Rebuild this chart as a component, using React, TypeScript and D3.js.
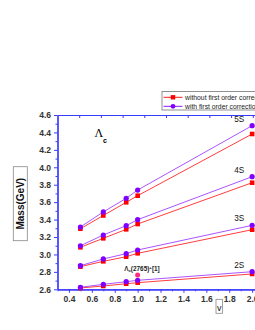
import * as React from "react";
import * as d3 from "d3";
import { select, axisBottom, axisLeft, axisTop } from "d3";

// velocity parameter v used in the calculation
const vValues = [0.5, 0.7, 0.9, 1.0, 2.0];
const stateNames = ["2S", "3S", "4S", "5S"];

// masses (GeV) without first order corrections
const without2S = [2.615, 2.638, 2.664, 2.676, 2.776];
const without3S = [2.86, 2.921, 2.974, 3.013, 3.284];
const without4S = [3.082, 3.185, 3.288, 3.349, 3.823];
const without5S = [3.295, 3.447, 3.598, 3.674, 4.382];

// masses (GeV) with first order corrections
const with2S = [2.623, 2.657, 2.687, 2.703, 2.802];
const with3S = [2.871, 2.948, 3.009, 3.051, 3.334];
const with4S = [3.1, 3.223, 3.33, 3.399, 3.892];
const with5S = [3.315, 3.488, 3.644, 3.739, 4.478];

// experimental Lambda_c(2765)+ point
const expV = [1.0];
const expMass = [2.764];

const xMajorTicks = [0.4, 0.6, 0.8, 1.0, 1.2, 1.4, 1.6, 1.8, 2.0];
const xMinorTicks = [0.3, 0.5, 0.7, 0.9, 1.1, 1.3, 1.5, 1.7, 1.9, 2.1];
const yMajorTicks = [2.6, 2.8, 3.0, 3.2, 3.4, 3.6, 3.8, 4.0, 4.2, 4.4, 4.6];
const yMinorTicks = [2.7, 2.9, 3.1, 3.3, 3.5, 3.7, 3.9, 4.1, 4.3, 4.5];
const topTicks = [1, 2, 3, 4, 5, 6, 7, 8, 9];

const legendLabels = ["without first order corrections", "with first order corrections"];

const RED = "#ff0000";
const PURPLE = "#8000ff";
const AXIS = "#3a3aff";
const FONT = "'Liberation Sans', Arial, sans-serif";

export default function App() {
  const width = 255;
  const height = 330;

  const x = d3.scaleLinear().domain([0.3, 2.1]).range([57.5, 263.6]);
  const y = d3.scaleLinear().domain([2.6, 4.6]).range([289.3, 115]);
  const xTop = d3.scaleLinear().domain([0, 9.6]).range([57.5, 265.8]);

  const withoutSeries = [without2S, without3S, without4S, without5S];
  const withSeries = [with2S, with3S, with4S, with5S];

  const line = d3
    .line<number>()
    .x((_d, i) => x(vValues[i]))
    .y(d => y(d));

  const styleAxis = (g: any, showText: boolean) => {
    g.select(".domain").attr("stroke", AXIS).attr("stroke-width", 1.2);
    g.selectAll(".tick line").attr("stroke", AXIS).attr("stroke-width", 1);
    g.selectAll(".tick text")
      .attr("fill", "#333")
      .attr("font-weight", "bold")
      .attr("font-size", 8.5)
      .attr("font-family", FONT)
      .style("display", showText ? null : "none");
  };

  return (
    <svg
      width={width}
      height={height}
      style={{ position: "absolute", left: 0, top: 0, background: "#fff" }}
    >
      {/* minor ticks first */}
      <g
        transform={`translate(0,${y(2.6)})`}
        ref={node => {
          if (!node) return;
          const g = select(node);
          g.call(axisBottom(x).tickValues(xMinorTicks).tickSize(2).tickSizeOuter(0).tickFormat(() => ""));
          styleAxis(g, false);
        }}
      />
      <g
        transform={`translate(${x(0.3)},0)`}
        ref={node => {
          if (!node) return;
          const g = select(node);
          g.call(axisLeft(y).tickValues(yMinorTicks).tickSize(2).tickSizeOuter(0).tickFormat(() => ""));
          styleAxis(g, false);
        }}
      />
      <g
        className="axis axis--x"
        transform={`translate(0,${y(2.6)})`}
        ref={node => {
          if (!node) return;
          const g = select(node);
          g.call(
            axisBottom(x)
              .tickValues(xMajorTicks)
              .tickSize(3.5)
              .tickSizeOuter(0)
              .tickPadding(3)
              .tickFormat(d3.format(".1f"))
          );
          styleAxis(g, true);
        }}
      />
      <g
        className="axis axis--y"
        transform={`translate(${x(0.3)},0)`}
        ref={node => {
          if (!node) return;
          const g = select(node);
          g.call(
            axisLeft(y)
              .tickValues(yMajorTicks)
              .tickSize(3.5)
              .tickSizeOuter(0)
              .tickPadding(3)
              .tickFormat(d3.format(".1f"))
          );
          styleAxis(g, true);
        }}
      />
      <g
        className="axis axis--top"
        transform={`translate(0,${y(4.6)})`}
        ref={node => {
          if (!node) return;
          const g = select(node);
          g.call(axisTop(xTop).tickValues(topTicks).tickSize(-3).tickSizeOuter(0).tickFormat(() => ""));
          styleAxis(g, false);
        }}
      />

      {/* series lines */}
      {withoutSeries.map((s, i) => (
        <path key={"lr" + i} d={line(s) as string} fill="none" stroke={RED} strokeWidth={0.9} strokeOpacity={0.85} />
      ))}
      {withSeries.map((s, i) => (
        <path key={"lp" + i} d={line(s) as string} fill="none" stroke={PURPLE} strokeWidth={0.9} strokeOpacity={0.75} />
      ))}

      {/* markers */}
      {withoutSeries.map((s, i) =>
        s.map((m, j) => (
          <rect key={`r${i}-${j}`} x={x(vValues[j]) - 2.3} y={y(m) - 2.3} width={4.6} height={4.6} fill={RED} />
        ))
      )}
      {withSeries.map((s, i) =>
        s.map((m, j) => <circle key={`c${i}-${j}`} cx={x(vValues[j])} cy={y(m)} r={2.6} fill={PURPLE} />)
      )}

      {/* experimental point */}
      {expV.map((v, i) => (
        <g key={"e" + i}>
          <circle cx={x(v)} cy={y(expMass[i])} r={2.5} fill="#ff2a7f" />
          <text x={x(v) - 13.5} y={y(expMass[i]) - 4.3} fontSize={6.4} fontFamily={FONT} fontWeight="bold" fill="#222">
            Λ<tspan fontSize={4.4} dy={1.3}>c</tspan>
            <tspan dy={-1.3}>(2765)</tspan>
            <tspan fontSize={4.4} dy={-2.2}>+</tspan>
            <tspan dy={2.2}>[1]</tspan>
          </text>
        </g>
      ))}

      {/* state labels */}
      {stateNames.map((name, i) => (
        <text
          key={name}
          x={x(2.0) - 8}
          y={y(withSeries[i][4]) - 4}
          textAnchor="end"
          fontSize={8.2}
          fontFamily={FONT}
          fill="#111"
        >
          {name}
        </text>
      ))}

      {/* Lambda_c tag */}
      <text x={94.5} y={136.5} fontSize={12} fontFamily="'Liberation Serif', serif" fill="#000">
        Λ
      </text>
      <text x={103} y={142.5} fontSize={7} fontFamily={FONT} fontWeight="bold" fill="#000">
        c
      </text>

      {/* legend */}
      <g>
        <rect x={162} y={91.5} width={110} height={18.5} fill="#fff" stroke="#777" strokeWidth={0.8} />
        {legendLabels.map((label, i) => {
          const ly = 97.3 + i * 9;
          const c = i === 0 ? RED : PURPLE;
          return (
            <g key={label}>
              <line x1={163.5} x2={182.5} y1={ly} y2={ly} stroke={c} strokeWidth={0.9} />
              {i === 0 ? (
                <rect x={170.8} y={ly - 2.2} width={4.4} height={4.4} fill={c} />
              ) : (
                <circle cx={173} cy={ly} r={2.4} fill={c} />
              )}
              <text x={185} y={ly + 2.2} fontSize={6.8} fontFamily={FONT} fill="#222">
                {label}
              </text>
            </g>
          );
        })}
      </g>

      {/* axis titles */}
      <rect x={13.3} y={166.7} width={14} height={74} fill="none" stroke="#888" strokeWidth={0.8} />
      <text
        transform="translate(20.5,203.7) rotate(-90)"
        textAnchor="middle"
        dominantBaseline="central"
        fontSize={10}
        fontWeight="bold"
        fontFamily={FONT}
        fill="#111"
      >
        Mass(GeV)
      </text>
      <rect x={216} y={299.3} width={6.5} height={14} fill="none" stroke="#888" strokeWidth={0.8} />
      <text x={219.2} y={310.5} textAnchor="middle" fontSize={9} fontFamily={FONT} fill="#111">
        v
      </text>
    </svg>
  );
}
